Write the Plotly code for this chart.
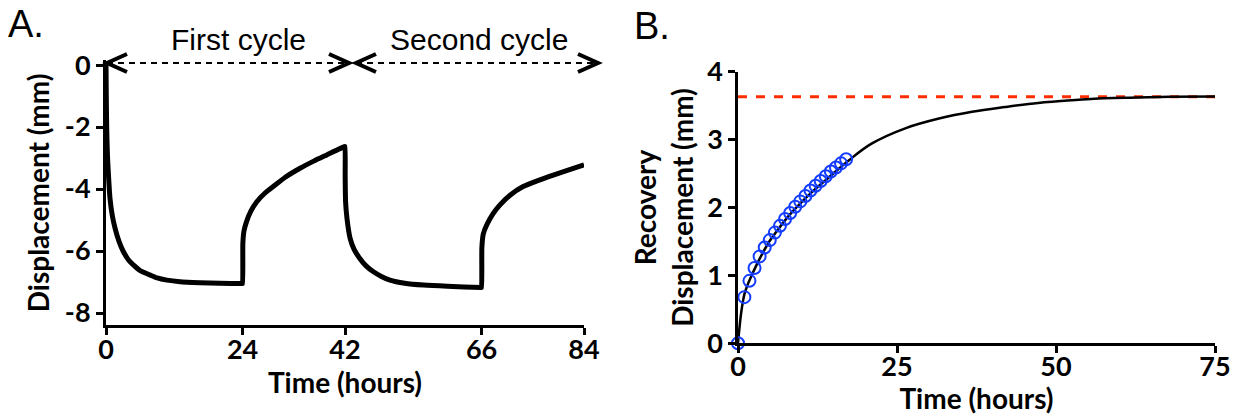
import plotly.graph_objects as go

# ---------------- Panel A data (displacement over two cycles) ----------------
time_a = [0, 0.05, 0.12, 0.25, 0.4, 0.7, 1.1, 1.6, 2.3, 3.0, 4.0, 4.8, 6.0, 7.7, 9.0,
          10.7, 13.0, 16.5, 20.0, 23.95,
          24.0, 24.05, 24.25, 24.7, 25.5, 26.5, 28.0, 29.4, 31.5, 34.1, 36.5, 38.8, 41.95,
          42.0, 42.03, 42.1, 42.35, 42.9, 43.6, 44.6, 45.7, 47.0, 48.4, 49.9, 52.5, 55.8,
          60.0, 65.95,
          66.0, 66.05, 66.3, 66.9, 68.0, 69.2, 71.0, 73.3, 76.0, 78.6, 81.2, 84.0]
disp_a = [0, -1.0, -2.0, -2.9, -3.45, -4.3, -4.85, -5.27, -5.7, -6.0, -6.3, -6.45, -6.63, -6.77, -6.87,
          -6.94, -6.99, -7.02, -7.04, -7.05,
          -7.05, -5.75, -5.35, -5.05, -4.7, -4.41, -4.12, -3.92, -3.62, -3.33, -3.1, -2.9, -2.63,
          -2.63, -3.6, -4.4, -4.95, -5.59, -5.95, -6.24, -6.48, -6.67, -6.82, -6.94, -7.04, -7.1,
          -7.14, -7.18,
          -7.18, -5.9, -5.45, -5.16, -4.8, -4.52, -4.2, -3.92, -3.72, -3.55, -3.39, -3.22]
ticks_a_x = [0, 24, 42, 66, 84]
ticks_a_y = [0, -2, -4, -6, -8]

# ---------------- Panel B data (recovery displacement) ----------------
time_b_obs = [0, 1.0, 1.8, 2.6, 3.4, 4.2, 5.0, 5.8, 6.6, 7.4, 8.2, 9.0, 9.8, 10.6, 11.4,
              12.2, 13.0, 13.8, 14.6, 15.4, 16.2, 17.0]
rec_b_obs = [0, 0.68, 0.92, 1.11, 1.28, 1.41, 1.52, 1.63, 1.73, 1.83, 1.92, 2.01, 2.09, 2.17, 2.25,
             2.32, 2.39, 2.46, 2.53, 2.59, 2.65, 2.71]
time_b_fit = [0, 0.5, 1, 1.5, 2, 3, 4, 5, 6, 8, 10, 12, 14, 17.5, 21, 26.4, 31.6, 36.8,
              42, 47.2, 52.4, 57.6, 62.8, 68, 75]
rec_b_fit = [0, 0.45, 0.72, 0.86, 0.97, 1.17, 1.35, 1.51, 1.64, 1.88, 2.08, 2.26, 2.42, 2.70,
             2.94, 3.17, 3.31, 3.41, 3.48, 3.54, 3.58, 3.61, 3.62, 3.63, 3.635]
plateau_b = 3.63
plateau_x = [0, 75]
ticks_b_x = [0, 25, 50, 75]
ticks_b_y = [0, 1, 2, 3, 4]

W, H = 1239, 415
FAM = "Lato, 'Open Sans', sans-serif"
tickf = dict(family=FAM, size=27, color="black", weight=900)
bold_title = dict(family=FAM, size=28, color="black", weight=700)


def btxt(vals):
    return ["<b>%s</b>" % str(v) for v in vals]


fig = go.Figure()
fig.add_trace(go.Scatter(x=time_a, y=disp_a, mode="lines", line_shape="spline",
                         line=dict(color="black", width=5, smoothing=0.5), xaxis="x", yaxis="y",
                         showlegend=False))
fig.add_trace(go.Scatter(x=plateau_x, y=[plateau_b, plateau_b], mode="lines",
                         line=dict(color="rgb(255,45,0)", width=3, dash="9px,9px"),
                         xaxis="x2", yaxis="y2", showlegend=False))
fig.add_trace(go.Scatter(x=time_b_fit, y=rec_b_fit, mode="lines", line_shape="spline",
                         line=dict(color="black", width=2.5), xaxis="x2", yaxis="y2",
                         showlegend=False))
fig.add_trace(go.Scatter(x=time_b_obs, y=rec_b_obs, mode="markers",
                         marker=dict(symbol="circle-open", size=12, color="rgb(20,60,255)",
                                     line=dict(width=2, color="rgb(20,60,255)")),
                         xaxis="x2", yaxis="y2", showlegend=False, cliponaxis=False))

axis_common = dict(showgrid=False, zeroline=False, showline=True, linecolor="black",
                   ticks="outside", tickcolor="black", tickfont=tickf, mirror=False,
                   automargin=False, tickmode="array")

fig.update_layout(
    width=W, height=H,
    margin=dict(l=0, r=0, t=0, b=0, autoexpand=False),
    paper_bgcolor="white", plot_bgcolor="white",
    xaxis=dict(domain=[106 / W, 584 / W], range=[0, 84], tickvals=ticks_a_x,
               ticktext=btxt(ticks_a_x), ticklabelstandoff=-9,
               linewidth=3, tickwidth=3, ticklen=7, anchor="y",
               title=dict(text="<b>Time (hours)</b>", font=bold_title, standoff=0), **axis_common),
    yaxis=dict(domain=[(H - 325.4) / H, (H - 60.4) / H], range=[-8.4, 0.15], tickvals=ticks_a_y,
               ticktext=btxt(ticks_a_y),
               linewidth=3, tickwidth=3, ticklen=7, anchor="x",
               title=dict(text="<b>Displacement (mm)</b>", font=bold_title, standoff=8),
               **axis_common),
    xaxis2=dict(domain=[738 / W, 1215 / W], range=[0, 75], tickvals=ticks_b_x,
                ticktext=btxt(ticks_b_x), ticklabelstandoff=-9,
                linewidth=2.5, tickwidth=3, ticklen=7, anchor="y2",
                title=dict(text="<b>Time (hours)</b>", font=bold_title, standoff=2),
                **axis_common),
    yaxis2=dict(domain=[(H - 343.3) / H, (H - 71.7) / H], range=[0, 4], tickvals=ticks_b_y,
                ticktext=btxt(ticks_b_y),
                linewidth=2.5, tickwidth=3, ticklen=7, anchor="x2",
                title=dict(text="<b>Recovery<br>Displacement (mm)</b>", font=bold_title, standoff=6),
                **axis_common),
)

arrow_y = (H - 63) / H
label_font = dict(family="Liberation Sans, Arial, sans-serif", size=30, color="black")
panel_font = dict(family="Liberation Sans, Arial, sans-serif", size=38, color="black")

shapes = []
# dashed cycle spans
for x0, x1 in [(107, 349), (356, 598)]:
    shapes.append(dict(type="line", xref="paper", yref="paper", x0=x0 / W, x1=x1 / W,
                       y0=arrow_y, y1=arrow_y, line=dict(color="black", width=2, dash="6px,5px")))
# chevron heads
for tip, direction in [(107, 1), (349, -1), (356, 1), (598, -1)]:
    d = 20 * direction
    shapes.append(dict(type="path", xref="paper", yref="paper", xsizemode="pixel",
                       ysizemode="pixel", xanchor=tip / W, yanchor=arrow_y,
                       path=f"M{d},-9 L0,0 L{d},9",
                       line=dict(color="black", width=4)))
fig.update_layout(shapes=shapes)

fig.add_annotation(text="First cycle", x=239 / W, y=(H - 40) / H, xref="paper", yref="paper",
                   showarrow=False, font=label_font, xanchor="center", yanchor="middle")
fig.add_annotation(text="Second cycle", x=479 / W, y=(H - 40) / H, xref="paper", yref="paper",
                   showarrow=False, font=label_font, xanchor="center", yanchor="middle")
fig.add_annotation(text="A.", x=6 / W, y=(H - 24) / H, xref="paper", yref="paper",
                   showarrow=False, font=panel_font, xanchor="left", yanchor="middle")
fig.add_annotation(text="B.", x=632 / W, y=(H - 26) / H, xref="paper", yref="paper",
                   showarrow=False, font=panel_font, xanchor="left", yanchor="middle")

fig.write_html("out.html", config={"displayModeBar": False},
               post_script="document.body.style.margin='0';document.body.style.padding='0';")
